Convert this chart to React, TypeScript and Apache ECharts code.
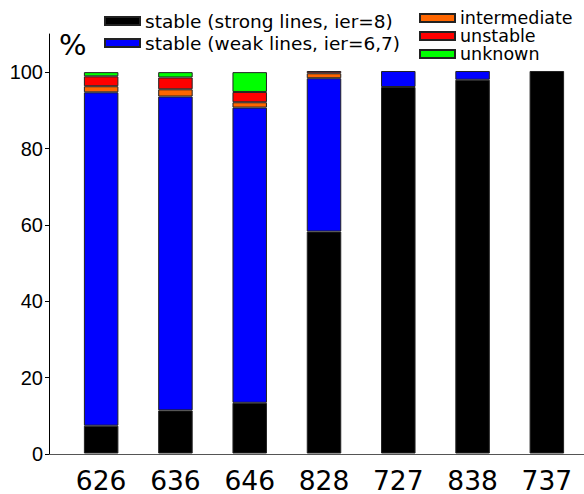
import React, { useEffect, useRef } from "react";
import * as echarts from "echarts";

const categories = ["626", "636", "646", "828", "727", "838", "737"];
const seriesNames = [
  "stable (strong lines, ier=8)",
  "stable (weak lines, ier=6,7)",
  "intermediate",
  "unstable",
  "unknown",
];
const strongStable = [7.3, 11.3, 13.3, 58.2, 96.1, 98.0, 100.3];
const weakStable = [87.4, 82.3, 77.4, 40.2, 4.2, 2.3, 0];
const intermediate = [1.6, 1.9, 1.4, 1.3, 0, 0, 0];
const unstable = [2.6, 3.1, 2.7, 0.6, 0, 0, 0];
const unknown = [1.1, 1.4, 5.2, 0, 0, 0, 0];
const yTicks = [0, 20, 40, 60, 80, 100];
const colors = ["#000000", "#0000ff", "#ff6600", "#ff0000", "#00ff00"];

export default function App() {
  const ref = useRef<HTMLDivElement>(null);
  useEffect(() => {
    if (!ref.current) return;
    const chart = echarts.init(ref.current, null, { renderer: "svg" });
    const values = [strongStable, weakStable, intermediate, unstable, unknown];
    const top = 34;
    const bottom = 40;
    const option: any = {
      animation: false,
      backgroundColor: "#ffffff",
      grid: [
        { left: 64, width: 530, top, bottom },
        { left: 49, right: 0, top, bottom },
      ],
      xAxis: [
        {
          type: "category",
          gridIndex: 0,
          data: categories,
          axisLine: { show: false },
          axisTick: { show: false },
          axisLabel: {
            color: "#000000",
            fontFamily: "DejaVu Sans",
            fontSize: 26.5,
            lineHeight: 24,
            margin: 15,
          },
        },
        {
          type: "value",
          gridIndex: 1,
          min: 0,
          max: 1,
          axisLine: { show: true, lineStyle: { color: "#555555", width: 1 } },
          axisTick: { show: false },
          axisLabel: { show: false },
          splitLine: { show: false },
        },
      ],
      yAxis: [
        {
          type: "value",
          gridIndex: 0,
          min: 0,
          max: 110,
          show: false,
        },
        {
          type: "value",
          gridIndex: 1,
          min: 0,
          max: 110,
          axisLine: { show: true, lineStyle: { color: "#000000", width: 1 } },
          axisTick: {
            show: true,
            length: 4,
            customValues: yTicks,
            lineStyle: { color: "#000000" },
          },
          axisLabel: {
            customValues: yTicks,
            color: "#000000",
            fontFamily: "Liberation Sans",
            fontSize: 20,
            margin: 6,
          },
          splitLine: { show: false },
        },
      ],
      legend: [
        {
          data: seriesNames.slice(0, 2),
          orient: "vertical",
          left: 104,
          top: 11,
          padding: 0,
          itemWidth: 35,
          itemHeight: 8,
          itemGap: 2,
          icon: "rect",
          textStyle: {
            fontFamily: "DejaVu Sans",
            fontSize: 18.5,
            lineHeight: 20,
            color: "#000000",
          },
        },
        {
          data: seriesNames.slice(2),
          orient: "vertical",
          left: 419,
          top: 9,
          padding: 0,
          itemWidth: 35,
          itemHeight: 8,
          itemGap: 0,
          icon: "rect",
          textStyle: {
            fontFamily: "DejaVu Sans",
            fontSize: 17.5,
            lineHeight: 18,
            color: "#000000",
          },
        },
      ],
      graphic: [
        {
          type: "text",
          left: 59,
          top: 30,
          style: {
            text: "%",
            fontFamily: "DejaVu Sans",
            fontSize: 29,
            fill: "#000000",
          },
        },
      ],
      series: seriesNames.map((name, k) => ({
        name,
        type: "bar",
        xAxisIndex: 0,
        yAxisIndex: 0,
        stack: "total",
        barWidth: 34.5,
        data: values[k].map((v) => (v === 0 ? "-" : v)),
        itemStyle: {
          color: colors[k],
          borderColor: "#222222",
          borderWidth: 1,
        },
      })),
    };
    chart.setOption(option);
    return () => chart.dispose();
  }, []);
  return (
    <div
      ref={ref}
      style={{ position: "fixed", left: 0, top: 0, width: 584, height: 494 }}
    />
  );
}
